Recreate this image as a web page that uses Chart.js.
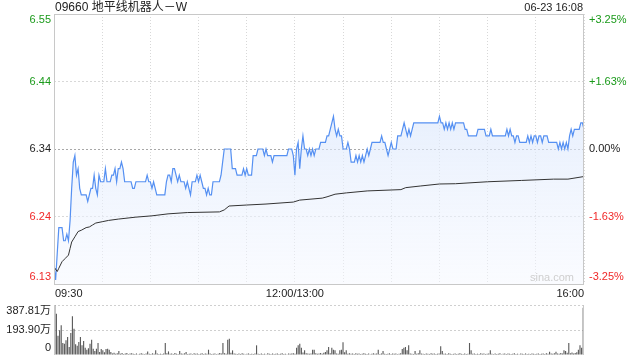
<!DOCTYPE html>
<html>
<head>
<meta charset="utf-8">
<script src="https://cdn.jsdelivr.net/npm/chart.js@4.4.1/dist/chart.umd.min.js"></script>
<style>
  body { margin: 0; background: #fff; }
  #wrap { position: relative; width: 640px; height: 360px; }
  canvas { position: absolute; left: 0; }
  #price { top: 0; }
  #vol { top: 300px; }
</style>
</head>
<body>
<div id="wrap">
  <canvas id="price" width="640" height="300"></canvas>
  <canvas id="vol" width="640" height="60"></canvas>
</div>
<script>
const title = '09660 地平线机器人－W';
const stamp = '06-23 16:08';
const preClose = 6.34;

// percent levels of the price axis, with their labels
const pctLevels = [3.25, 1.625, 0, -1.625, -3.25];
const leftLabels = ['6.55', '6.44', '6.34', '6.24', '6.13'];
const rightLabels = ['+3.25%', '+1.63%', '0.00%', '-1.63%', '-3.25%'];

// time axis (minute index from 09:30, lunch break removed)
const timeTicks = [0, 150, 330];
const timeLabels = ['09:30', '12:00/13:00', '16:00'];

// last price each minute
const price = [
  6.16,6.14,6.18,6.22,6.22,6.22,6.20,6.20,6.21,6.20,
  6.23,6.28,6.32,6.33,6.30,6.31,6.28,6.27,6.27,6.27,
  6.27,6.26,6.27,6.28,6.28,6.30,6.28,6.27,6.30,6.29,
  6.29,6.29,6.31,6.29,6.29,6.29,6.30,6.30,6.31,6.29,
  6.31,6.31,6.32,6.31,6.29,6.29,6.29,6.29,6.29,6.28,
  6.28,6.29,6.29,6.29,6.29,6.29,6.29,6.29,6.30,6.29,
  6.29,6.28,6.29,6.28,6.27,6.27,6.27,6.27,6.27,6.27,
  6.29,6.30,6.30,6.29,6.31,6.31,6.30,6.29,6.30,6.29,
  6.29,6.29,6.28,6.29,6.28,6.27,6.29,6.29,6.29,6.30,
  6.29,6.30,6.29,6.28,6.28,6.27,6.28,6.27,6.27,6.29,
  6.29,6.29,6.29,6.29,6.30,6.32,6.34,6.34,6.34,6.34,
  6.34,6.31,6.31,6.31,6.30,6.30,6.30,6.30,6.31,6.30,
  6.31,6.30,6.30,6.30,6.33,6.33,6.33,6.34,6.34,6.34,
  6.34,6.33,6.34,6.33,6.33,6.33,6.32,6.33,6.33,6.33,
  6.33,6.33,6.33,6.33,6.33,6.33,6.34,6.34,6.34,6.33,
  6.30,6.34,6.35,6.31,6.34,6.36,6.34,6.34,6.33,6.34,
  6.33,6.34,6.33,6.34,6.34,6.34,6.35,6.35,6.35,6.35,
  6.36,6.36,6.37,6.38,6.39,6.37,6.36,6.37,6.36,6.36,
  6.34,6.34,6.34,6.35,6.34,6.32,6.32,6.32,6.33,6.32,
  6.33,6.32,6.33,6.32,6.33,6.34,6.33,6.34,6.35,6.35,
  6.35,6.35,6.35,6.35,6.36,6.35,6.35,6.34,6.33,6.34,
  6.35,6.34,6.34,6.34,6.36,6.36,6.36,6.37,6.38,6.37,
  6.36,6.37,6.36,6.37,6.38,6.38,6.38,6.38,6.38,6.38,
  6.38,6.38,6.38,6.38,6.38,6.38,6.38,6.38,6.38,6.38,
  6.39,6.38,6.38,6.37,6.38,6.37,6.38,6.37,6.38,6.37,
  6.38,6.38,6.38,6.38,6.38,6.38,6.37,6.37,6.36,6.36,
  6.36,6.36,6.36,6.36,6.37,6.37,6.37,6.37,6.37,6.36,
  6.36,6.36,6.37,6.36,6.36,6.36,6.36,6.36,6.36,6.36,
  6.36,6.36,6.37,6.36,6.37,6.36,6.36,6.35,6.36,6.36,
  6.35,6.35,6.35,6.35,6.35,6.36,6.35,6.36,6.35,6.36,
  6.36,6.35,6.36,6.36,6.35,6.36,6.36,6.36,6.35,6.35,
  6.35,6.35,6.35,6.35,6.34,6.35,6.34,6.35,6.34,6.35,
  6.34,6.36,6.37,6.36,6.37,6.37,6.37,6.37,6.38,6.38,
  6.37
];

// average price line, read at selected minutes
const avgMin = [0,2,3,5,7,9,10,11,13,15,17,20,22,24,26,30,34,40,51,61,71,83,103,106,109,120,132,149,153,167,170,175,182,195,216,219,228,240,250,270,291,311,320,330];
const avgVal = [6.160,6.153,6.158,6.168,6.173,6.178,6.188,6.198,6.206,6.214,6.216,6.220,6.221,6.224,6.227,6.229,6.231,6.233,6.236,6.238,6.241,6.243,6.244,6.247,6.253,6.2545,6.256,6.259,6.262,6.265,6.267,6.271,6.273,6.276,6.278,6.281,6.2835,6.2866,6.287,6.290,6.292,6.294,6.294,6.298];

// volume each minute, in 万 shares
const volume = [
  385,320,150,191,230,93,88,114,140,62,
  170,300,204,83,72,101,140,75,109,57,
  41,52,88,119,49,31,49,93,23,47,
  36,21,47,49,41,23,12,18,9,14,
  31,10,15,8,12,16,7,11,13,9,
  8,12,6,10,14,9,7,11,28,10,
  8,13,9,36,12,7,10,8,11,93,
  14,28,9,12,8,15,10,7,31,11,
  9,13,23,8,10,12,7,14,9,11,
  8,10,13,7,12,9,41,11,8,10,
  12,7,9,15,11,93,14,10,119,127,
  18,36,12,9,7,11,8,13,10,6,
  9,12,7,10,8,11,75,9,7,12,
  8,10,6,13,9,7,11,8,10,12,
  7,9,13,8,10,6,12,9,11,14,
  10,57,75,88,57,20,36,14,12,9,
  11,41,41,13,10,12,15,9,18,23,
  36,62,14,57,41,36,12,9,36,41,
  98,22,36,10,14,9,12,8,13,10,
  11,7,9,14,10,8,12,6,10,13,
  9,11,41,8,12,31,10,7,9,13,
  8,11,9,12,7,10,14,47,57,62,
  36,75,12,9,8,31,10,14,36,11,
  9,7,12,10,8,13,9,11,7,10,
  12,67,31,9,11,8,13,10,7,9,
  12,8,10,14,9,7,11,8,10,93,
  36,9,12,8,10,7,13,9,11,8,
  10,12,36,9,7,11,8,10,13,6,
  9,11,8,12,10,7,9,13,8,10,
  6,11,9,8,12,7,10,8,11,9,
  7,10,12,8,9,11,8,13,10,26,
  12,9,14,26,11,10,15,12,36,31,
  18,93,14,20,12,16,22,41,75,57,
  367
];
const volMax = 387.81;
const volLabels = ['387.81万', '193.90万', '0'];

const FONT = '"Liberation Sans", Arial, "Noto Sans CJK SC", sans-serif';
const GREEN = '#1a9a1a', RED = '#f02828', DARK = '#222';
const FRAME = '#c8c8c8';

function levelValue(p) { return preClose * (1 + p / 100); }

const priceLabels = {
  id: 'priceLabels',
  afterDraw(chart) {
    const { ctx, chartArea: a, scales: { x, y } } = chart;
    ctx.save();
    ctx.strokeStyle = FRAME;
    ctx.lineWidth = 1;
    ctx.strokeRect(Math.round(a.left) + 0.5, Math.round(a.top) + 0.5,
      Math.round(a.right - a.left) - 1, Math.round(a.bottom - a.top));

    ctx.font = '11px ' + FONT;
    ctx.textBaseline = 'middle';
    pctLevels.forEach((p, i) => {
      let py = y.getPixelForValue(levelValue(p));
      if (i === 0) py += 6;
      if (i === pctLevels.length - 1) py -= 7;
      ctx.fillStyle = p > 0 ? GREEN : p < 0 ? RED : DARK;
      ctx.textAlign = 'right';
      ctx.fillText(leftLabels[i], a.left - 3, py);
      ctx.textAlign = 'left';
      ctx.fillText(rightLabels[i], a.right + 5, py);
    });

    ctx.fillStyle = DARK;
    timeTicks.forEach((t, i) => {
      const px = x.getPixelForValue(t);
      ctx.textAlign = i === 0 ? 'left' : i === timeTicks.length - 1 ? 'right' : 'center';
      ctx.fillText(timeLabels[i], i === 0 ? px + 1 : px, a.bottom + 10);
    });

    ctx.textAlign = 'right';
    ctx.fillText(stamp, a.right - 1, 8);
    ctx.font = '12px ' + FONT;
    ctx.textAlign = 'left';
    ctx.fillText(title, a.left + 1, 8);

    ctx.fillStyle = '#cfcfcf';
    ctx.font = '11px ' + FONT;
    ctx.textAlign = 'right';
    ctx.fillText('sina.com', a.right - 10, a.bottom - 6);
    ctx.restore();
  }
};

new Chart(document.getElementById('price'), {
  type: 'line',
  data: {
    datasets: [{
      data: avgMin.map((m, i) => ({ x: m, y: avgVal[i] })),
      borderColor: '#333',
      borderWidth: 1,
      pointRadius: 0,
      fill: false
    }, {
      data: price.map((p, i) => ({ x: i, y: p })),
      borderColor: '#5590f2',
      borderWidth: 1.2,
      pointRadius: 0,
      fill: 'start',
      backgroundColor: (c) => {
        const a = c.chart.chartArea;
        if (!a) return 'rgba(220,232,252,0.6)';
        const g = c.chart.ctx.createLinearGradient(0, a.top, 0, a.bottom);
        g.addColorStop(0, 'rgba(205,222,250,0.75)');
        g.addColorStop(1, 'rgba(245,248,255,0.5)');
        return g;
      }
    }]
  },
  options: {
    responsive: false,
    animation: false,
    devicePixelRatio: 1,
    layout: { padding: { left: 54, right: 56, top: 14, bottom: 16 } },
    plugins: { legend: { display: false }, tooltip: { enabled: false } },
    scales: {
      x: {
        type: 'linear',
        min: 0,
        max: 330,
        ticks: { display: false, stepSize: 30 },
        grid: { drawTicks: false, color: '#d8d8d8' },
        border: { display: false, dash: [1, 2] }
      },
      y: {
        min: levelValue(-3.25),
        max: levelValue(3.25),
        afterBuildTicks: (s) => { s.ticks = pctLevels.map(p => ({ value: levelValue(p) })); },
        ticks: { display: false },
        grid: {
          drawTicks: false,
          color: (c) => Math.abs(c.tick.value - preClose) < 1e-6 ? '#a8a8a8' : '#d8d8d8'
        },
        border: { display: false, dash: [2, 2] }
      }
    }
  },
  plugins: [priceLabels]
});

const volumeLabels = {
  id: 'volumeLabels',
  afterDraw(chart) {
    const { ctx, chartArea: a, scales: { y } } = chart;
    ctx.save();
    ctx.strokeStyle = FRAME;
    ctx.lineWidth = 1;
    ctx.beginPath();
    ctx.moveTo(Math.round(a.left) + 0.5, a.top);
    ctx.lineTo(Math.round(a.left) + 0.5, a.bottom);
    ctx.moveTo(Math.round(a.right) - 0.5, a.top);
    ctx.lineTo(Math.round(a.right) - 0.5, a.bottom);
    ctx.stroke();
    ctx.font = '11px ' + FONT;
    ctx.textBaseline = 'middle';
    ctx.textAlign = 'right';
    ctx.fillStyle = DARK;
    [volMax, volMax / 2, 0].forEach((v, i) => {
      let py = y.getPixelForValue(v);
      if (i === 0) py += 6;
      if (i === 2) py -= 7;
      ctx.fillText(volLabels[i], a.left - 3, py);
    });
    ctx.restore();
  }
};

new Chart(document.getElementById('vol'), {
  type: 'bar',
  data: {
    labels: volume.map((v, i) => i),
    datasets: [{
      data: volume,
      backgroundColor: '#5a5a5a',
      barPercentage: 0.7,
      categoryPercentage: 1
    }]
  },
  options: {
    responsive: false,
    animation: false,
    devicePixelRatio: 1,
    layout: { padding: { left: 54, right: 56, top: 5, bottom: 5 } },
    plugins: { legend: { display: false }, tooltip: { enabled: false } },
    scales: {
      x: { display: false },
      y: {
        min: 0,
        max: volMax,
        afterBuildTicks: (s) => { s.ticks = [0, volMax / 2, volMax].map(v => ({ value: v })); },
        ticks: { display: false },
        grid: { drawTicks: false, color: (c) => c.tick.value === 0 ? 'rgba(0,0,0,0)' : '#cfcfcf' },
        border: { display: false, dash: [2, 2] }
      }
    }
  },
  plugins: [volumeLabels]
});
</script>
</body>
</html>
